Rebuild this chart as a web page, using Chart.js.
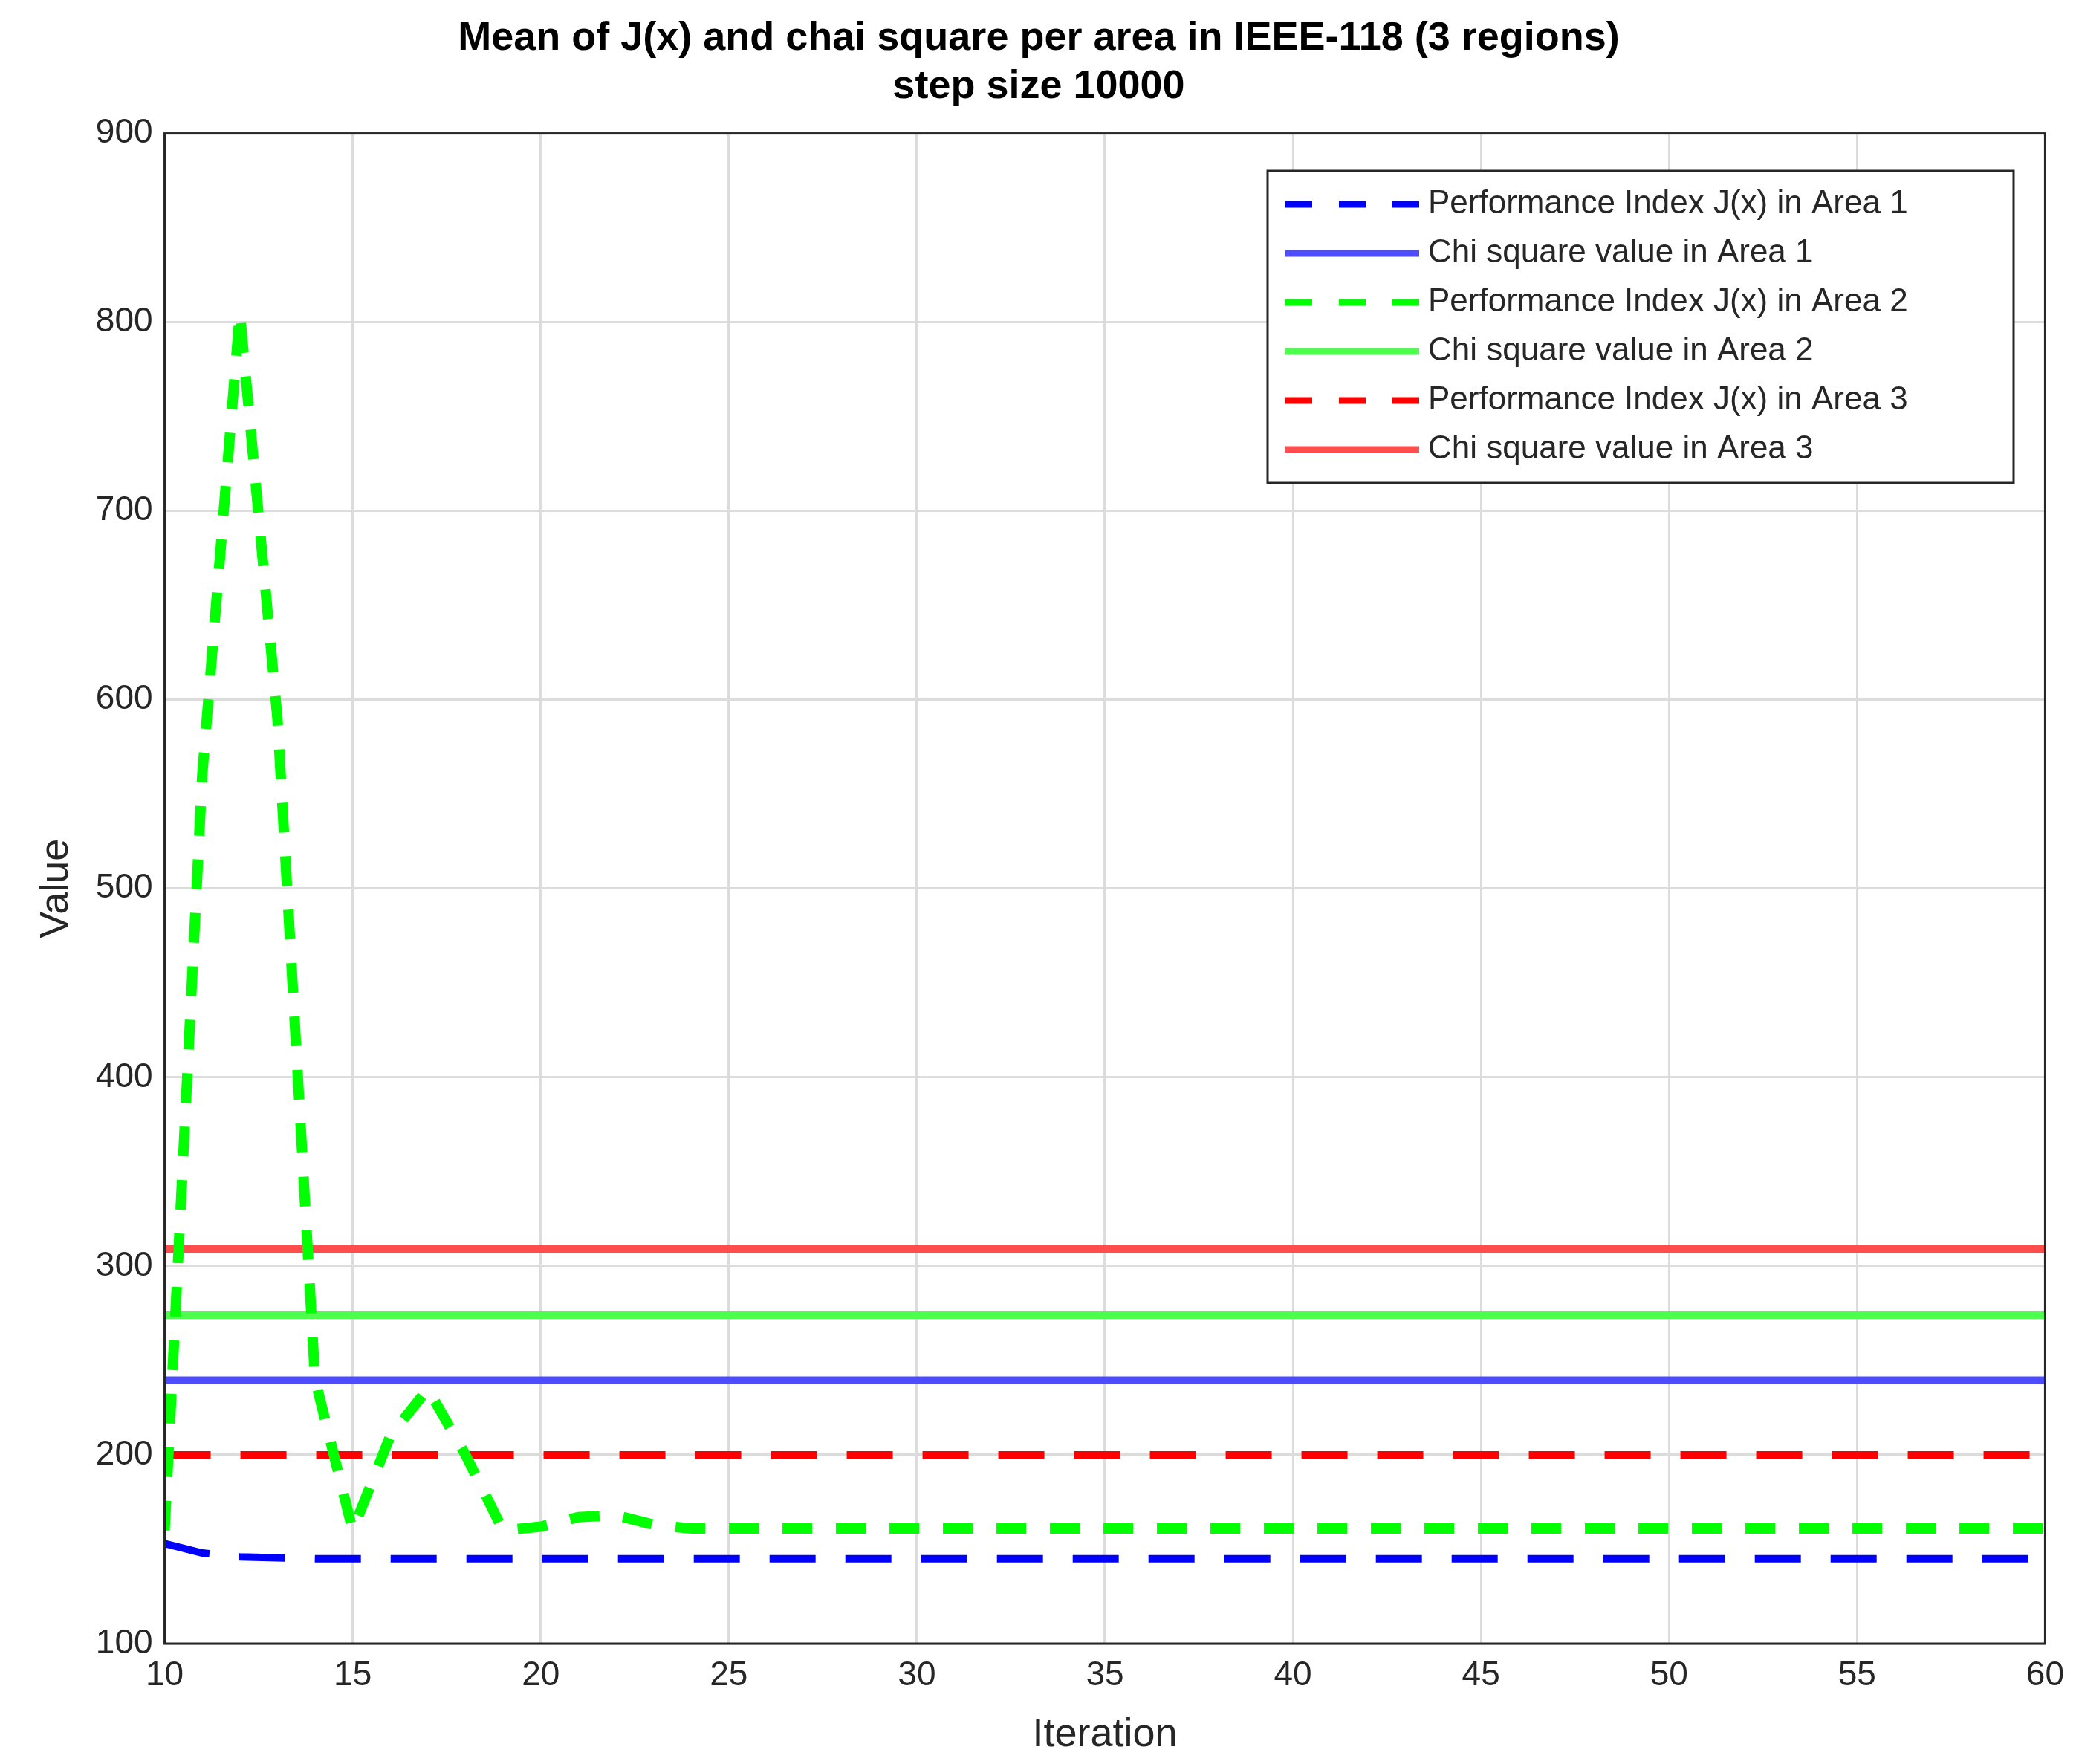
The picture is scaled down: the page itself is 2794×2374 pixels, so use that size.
<!DOCTYPE html>
<html>
<head>
<meta charset="utf-8">
<script src="https://cdn.jsdelivr.net/npm/chart.js@4/dist/chart.umd.min.js"></script>
<style>
  html, body { margin: 0; padding: 0; background: #fff; }
  #wrap { width: 2794px; height: 2374px; position: relative; }
</style>
</head>
<body>
<div id="wrap"><canvas id="chart" width="2794" height="2374"></canvas></div>
<script>
const iterations = [];
for (let i = 10; i <= 60; i++) iterations.push(i);

const jArea1 = [153, 148, 146, 145.5, 145, 145, 145, 145, 145, 145, 145, 145, 145, 145, 145, 145, 145, 145, 145, 145, 145, 145, 145, 145, 145, 145, 145, 145, 145, 145, 145, 145, 145, 145, 145, 145, 145, 145, 145, 145, 145, 145, 145, 145, 145, 145, 145, 145, 145, 145, 145];
const jArea2 = [160, 560, 805, 590, 240, 160, 210, 235, 200, 160, 162, 167, 168, 163, 161, 161, 161, 161, 161, 161, 161, 161, 161, 161, 161, 161, 161, 161, 161, 161, 161, 161, 161, 161, 161, 161, 161, 161, 161, 161, 161, 161, 161, 161, 161, 161, 161, 161, 161, 161, 161];
const jArea3 = [200, 200, 200, 200, 200, 200, 200, 200, 200, 200, 200, 200, 200, 200, 200, 200, 200, 200, 200, 200, 200, 200, 200, 200, 200, 200, 200, 200, 200, 200, 200, 200, 200, 200, 200, 200, 200, 200, 200, 200, 200, 200, 200, 200, 200, 200, 200, 200, 200, 200, 200];
const chiArea1 = 239.5;
const chiArea2 = 274;
const chiArea3 = 309;
const yTicks = [100, 200, 300, 400, 500, 600, 700, 800, 900];

function pts(vals) { return iterations.map((x, i) => ({ x: x, y: vals[i] })); }
function flat(v) { return iterations.map(x => ({ x: x, y: v })); }

const dash = [62, 40];
const ds = [
  { label: 'Performance Index J(x) in Area 1', data: pts(jArea1), borderColor: '#0000ff', borderDash: dash, borderWidth: 10 },
  { label: 'Chi square value in Area 1', data: flat(chiArea1), borderColor: '#4d4dff', borderWidth: 10 },
  { label: 'Performance Index J(x) in Area 2', data: pts(jArea2), borderColor: '#00ff00', borderDash: [40, 32], borderWidth: 14 },
  { label: 'Chi square value in Area 2', data: flat(chiArea2), borderColor: '#4dff4d', borderWidth: 10 },
  { label: 'Performance Index J(x) in Area 3', data: pts(jArea3), borderColor: '#ff0000', borderDash: dash, borderWidth: 10 },
  { label: 'Chi square value in Area 3', data: flat(chiArea3), borderColor: '#ff4d4d', borderWidth: 10 }
].map(d => Object.assign({ pointRadius: 0, fill: false, tension: 0 }, d));

const tickFont = { family: 'Liberation Sans', size: 46 };

const legendBox = {
  id: 'legendBox',
  afterDraw(chart) {
    const ctx = chart.ctx;
    const x0 = 1706, y0 = 230, w = 1004, rowH = 66;
    ctx.save();
    ctx.fillStyle = '#fff';
    ctx.strokeStyle = '#262626';
    ctx.lineWidth = 3;
    ctx.fillRect(x0, y0, w, rowH * 6 + 24);
    ctx.strokeRect(x0, y0, w, rowH * 6 + 24);
    ctx.font = '44px "Liberation Sans"';
    ctx.textBaseline = 'middle';
    chart.data.datasets.forEach((d, i) => {
      const y = y0 + 12 + rowH * i + rowH / 2;
      ctx.strokeStyle = d.borderColor;
      ctx.lineWidth = 9;
      ctx.setLineDash(d.borderDash ? [36, 36] : []);
      ctx.beginPath();
      ctx.moveTo(x0 + 24, y);
      ctx.lineTo(x0 + 204, y);
      ctx.stroke();
      ctx.setLineDash([]);
      ctx.fillStyle = '#262626';
      ctx.fillText(d.label, x0 + 216, y);
    });
    ctx.restore();
  }
};

const frame = {
  id: 'frame',
  afterDatasetsDraw(chart) {
    const a = chart.chartArea, ctx = chart.ctx;
    ctx.save();
    ctx.strokeStyle = '#262626';
    ctx.lineWidth = 3;
    ctx.strokeRect(a.left, a.top, a.right - a.left, a.bottom - a.top);
    ctx.restore();
  }
};

new Chart(document.getElementById('chart').getContext('2d'), {
  type: 'line',
  data: { datasets: ds },
  options: {
    responsive: false,
    animation: false,
    layout: { padding: { left: 40, right: 38, top: 20, bottom: 2 } },
    plugins: {
      legend: { display: false },
      tooltip: { enabled: false },
      title: {
        display: true,
        text: ['Mean of J(x) and chai square per area in IEEE-118 (3 regions)', 'step size 10000'],
        color: '#000',
        font: { family: 'Liberation Sans', size: 54, weight: 'bold' },
        padding: { top: 0, bottom: 30 }
      }
    },
    scales: {
      x: {
        type: 'linear', min: 10, max: 60,
        ticks: { stepSize: 5, color: '#262626', font: tickFont, padding: 16 },
        grid: { color: '#dcdcdc', lineWidth: 3, drawTicks: false },
        border: { display: false },
        title: { display: true, text: 'Iteration', color: '#262626', font: { family: 'Liberation Sans', size: 54 } }
      },
      y: {
        min: 100, max: 900,
        afterBuildTicks(s) { s.ticks = yTicks.map(v => ({ value: v })); },
        ticks: { color: '#262626', font: tickFont, padding: 16 },
        grid: { color: '#dcdcdc', lineWidth: 3, drawTicks: false },
        border: { display: false },
        title: { display: true, text: 'Value', color: '#262626', font: { family: 'Liberation Sans', size: 54 } }
      }
    }
  },
  plugins: [frame, legendBox]
});
</script>
</body>
</html>
